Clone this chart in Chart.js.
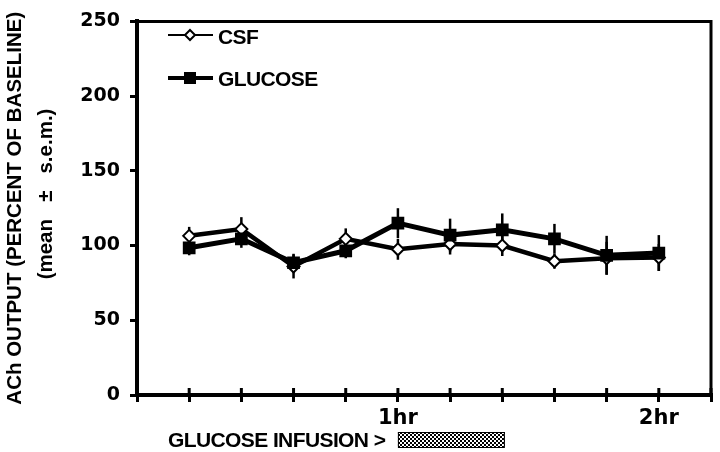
<!DOCTYPE html>
<html>
<head>
<meta charset="utf-8">
<script src="https://cdn.jsdelivr.net/npm/chart.js@4/dist/chart.umd.min.js"></script>
<style>
  body { margin: 0; background: #fff; }
</style>
</head>
<body>
<canvas id="ach-chart" width="720" height="452"></canvas>
<script>
'use strict';

// 12 min per step, 1hr = 5, 2hr = 10
const timePoints = [1, 2, 3, 4, 5, 6, 7, 8, 9, 10];
const csfMean = [106.5, 111, 86, 104.5, 97.5, 101, 100, 89.5, 91.5, 92];
const csfSem = [6, 8, 8, 7, 7, 7, 7, 5, 11, 9];
const glucoseMean = [98.5, 104.5, 88.5, 96.5, 115, 107, 110.5, 104.5, 93.5, 95];
const glucoseSem = [5, 6, 6, 5, 10, 11, 11, 10, 13, 12];
const xTickLabels = { 5: '1hr', 10: '2hr' };
const infusionRange = [5, 7.05];

const labelFont = '"Liberation Sans", Arial, sans-serif';

window.toPoints = function (means) {
    return timePoints.map(function (t, i) {
        return { x: t, y: means[i] };
    });
};

window.makeStipple = function (ctx) {
    let c = document.createElement('canvas');
    c.width = 4;
    c.height = 4;
    let p = c.getContext('2d');
    p.fillStyle = '#fff';
    p.fillRect(0, 0, 4, 4);
    p.fillStyle = '#000';
    p.fillRect(0, 0, 2, 2);
    p.fillRect(2, 2, 2, 2);
    return ctx.createPattern(c, 'repeat');
};

const errorBars = {
    id: 'errorBars',
    beforeDatasetsDraw: function (chart) {
        let ctx = chart.ctx;
        let x = chart.scales.x;
        let y = chart.scales.y;
        ctx.save();
        ctx.strokeStyle = '#000';
        ctx.lineWidth = 2.5;
        [[csfMean, csfSem], [glucoseMean, glucoseSem]].forEach(function (s) {
            timePoints.forEach(function (t, i) {
                let px = x.getPixelForValue(t);
                ctx.beginPath();
                ctx.moveTo(px, y.getPixelForValue(s[0][i] - s[1][i]));
                ctx.lineTo(px, y.getPixelForValue(s[0][i] + s[1][i]));
                ctx.stroke();
            });
        });
        ctx.restore();
    },
};

const decorations = {
    id: 'decorations',
    afterDraw: function (chart) {
        let ctx = chart.ctx;
        let area = chart.chartArea;
        let x = chart.scales.x;
        ctx.save();
        ctx.strokeStyle = '#000';
        ctx.fillStyle = '#000';

        // top + right frame
        ctx.lineWidth = 3;
        ctx.beginPath();
        ctx.moveTo(area.left, area.top);
        ctx.lineTo(area.right, area.top);
        ctx.lineTo(area.right, area.bottom);
        ctx.stroke();

        // x ticks cross the axis
        x.ticks.forEach(function (t) {
            let px = x.getPixelForValue(t.value);
            ctx.beginPath();
            ctx.moveTo(px, area.bottom - 7);
            ctx.lineTo(px, area.bottom);
            ctx.stroke();
        });

        // legend
        ctx.font = 'bold 21px ' + labelFont;
        ctx.letterSpacing = '-0.6px';
        ctx.textBaseline = 'middle';
        ctx.lineWidth = 2;
        ctx.beginPath();
        ctx.moveTo(168, 35);
        ctx.lineTo(213, 35);
        ctx.stroke();
        ctx.beginPath();
        ctx.moveTo(190, 30);
        ctx.lineTo(195, 35);
        ctx.lineTo(190, 40);
        ctx.lineTo(185, 35);
        ctx.closePath();
        ctx.fillStyle = '#fff';
        ctx.fill();
        ctx.stroke();
        ctx.fillStyle = '#000';
        ctx.fillText('CSF', 218, 38);

        ctx.lineWidth = 4;
        ctx.beginPath();
        ctx.moveTo(168, 78);
        ctx.lineTo(213, 78);
        ctx.stroke();
        ctx.fillRect(184, 72, 12, 12);
        ctx.fillText('GLUCOSE', 218, 80);

        // infusion marker
        ctx.textBaseline = 'alphabetic';
        ctx.fillText('GLUCOSE INFUSION >', 168, 447);
        let x0 = x.getPixelForValue(infusionRange[0]);
        let x1 = x.getPixelForValue(infusionRange[1]);
        ctx.fillStyle = makeStipple(ctx);
        ctx.fillRect(x0, 432, x1 - x0, 16);
        ctx.lineWidth = 1;
        ctx.strokeRect(x0 + 0.5, 432.5, x1 - x0 - 1, 15);
        ctx.restore();
    },
};

let ctx = document.getElementById('ach-chart').getContext('2d');

window.achChart = new Chart(ctx, {
    type: 'line',
    data: {
        datasets: [
            {
                label: 'GLUCOSE',
                data: toPoints(glucoseMean),
                borderColor: '#000',
                backgroundColor: '#000',
                borderWidth: 5,
                pointStyle: 'rect',
                pointRadius: 9,
                pointBorderWidth: 0,
                tension: 0,
            },
            {
                label: 'CSF',
                data: toPoints(csfMean),
                borderColor: '#000',
                backgroundColor: '#fff',
                borderWidth: 4.5,
                pointStyle: 'rectRot',
                pointRadius: 6,
                pointBorderWidth: 2,
                tension: 0,
            },
        ],
    },
    options: {
        responsive: false,
        animation: false,
        layout: { padding: { left: 0, top: 13, right: 7, bottom: 0 } },
        plugins: {
            legend: { display: false },
            tooltip: { enabled: false },
        },
        scales: {
            x: {
                type: 'linear',
                min: 0,
                max: 11,
                afterFit: function (scale) { scale.height = 57; },
                border: { color: '#000', width: 4 },
                grid: {
                    drawOnChartArea: false,
                    color: '#000',
                    lineWidth: 3,
                    tickLength: 7,
                },
                ticks: {
                    stepSize: 1,
                    autoSkip: false,
                    maxRotation: 0,
                    padding: 4,
                    color: '#000',
                    font: { family: '"DejaVu Sans"', weight: 'bold', size: 21 },
                    callback: function (v) { return xTickLabels[v] || ''; },
                },
            },
            y: {
                min: 0,
                max: 250,
                afterFit: function (scale) { scale.width = 137; },
                border: { color: '#000', width: 4 },
                grid: {
                    drawOnChartArea: false,
                    color: '#000',
                    lineWidth: 3,
                    tickLength: 7,
                },
                ticks: {
                    stepSize: 50,
                    padding: 10,
                    color: '#000',
                    font: { family: '"DejaVu Sans"', weight: 'bold', size: 19 },
                },
                title: {
                    display: true,
                    text: ['ACh OUTPUT (PERCENT OF BASELINE)',
                        '\u00a0\u00a0\u00a0\u00a0\u00a0(mean\u00a0\u00a0\u00a0\u00b1\u00a0\u00a0\u00a0s.e.m.)'],
                    color: '#000',
                    padding: 0,
                    font: { family: labelFont, weight: 'bold', size: 20.5, lineHeight: 31 / 20.5 },
                },
            },
        },
    },
    plugins: [errorBars, decorations],
});
</script>
</body>
</html>
